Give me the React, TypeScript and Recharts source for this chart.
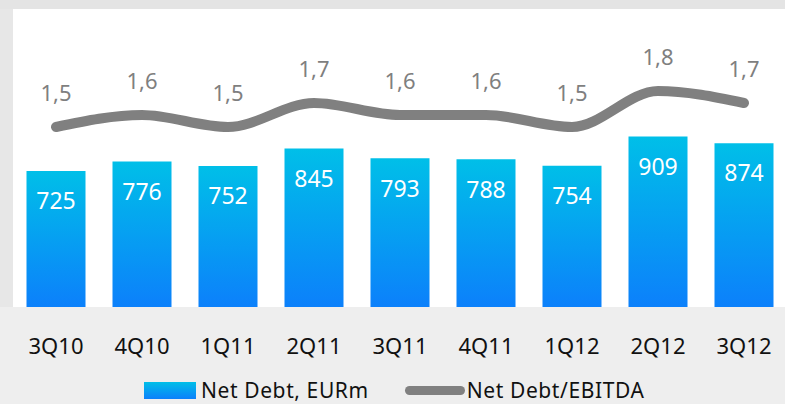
import { ComposedChart, Bar, Line, XAxis, YAxis, Legend, LabelList } from 'recharts'

const quarters = ['3Q10', '4Q10', '1Q11', '2Q11', '3Q11', '4Q11', '1Q12', '2Q12', '3Q12']
const netDebt = [725, 776, 752, 845, 793, 788, 754, 909, 874]
const debtToEbitda = [1.5, 1.6, 1.5, 1.7, 1.6, 1.6, 1.5, 1.8, 1.7]

const data = quarters.map((q, i) => ({ q, debt: netDebt[i], ratio: debtToEbitda[i] }))

const font = '"Noto Sans", "DejaVu Sans", sans-serif'
const fmtRatio = (v: any) => String(v).replace('.', ',')

function LegendBox() {
  return (
    <div style={{ display: 'flex', alignItems: 'center', fontFamily: font, fontSize: 21, lineHeight: '22px', color: '#111', height: 22, paddingLeft: 144 }}>
      <span style={{ width: 52, height: 17, background: 'linear-gradient(#00bfe8, #0c80fb)', marginRight: 5 }} />
      <span style={{ letterSpacing: 0.6 }}>Net Debt, EURm</span>
      <span style={{ width: 60, height: 9, borderRadius: 5, background: '#808080', marginLeft: 36, marginRight: 2 }} />
      <span style={{ letterSpacing: 0.6 }}>Net Debt/EBITDA</span>
    </div>
  )
}

export default function App() {
  return (
    <div style={{ position: 'fixed', left: 0, top: 0, width: 785, height: 404, background: '#eeeeee', overflow: 'hidden' }}>
      <div style={{ position: 'absolute', left: 0, top: 0, width: 785, height: 9, background: '#e4e4e4' }} />
      <div style={{ position: 'absolute', left: 0, top: 9, width: 13, height: 298, background: '#e7e7e7' }} />
      <div style={{ position: 'absolute', left: 13, top: 9, width: 772, height: 298, background: '#ffffff' }} />
      <div style={{ position: 'absolute', left: 0, top: 0 }}>
        <ComposedChart
          width={788}
          height={404}
          data={data}
          margin={{ top: 7, right: 1, left: 13, bottom: 0 }}
          barCategoryGap={13.5}
        >
          <defs>
            <linearGradient id="barGrad" x1="0" y1="0" x2="0" y2="1">
              <stop offset="0%" stopColor="#00bfe8" />
              <stop offset="100%" stopColor="#0c80fb" />
            </linearGradient>
          </defs>
          <XAxis
            dataKey="q"
            axisLine={false}
            tickLine={false}
            height={64}
            tick={{ fill: '#111', fontSize: 22, fontFamily: font, dy: 23 }}
            interval={0}
          />
          <YAxis yAxisId="debt" hide domain={[0, 1600]} />
          <YAxis yAxisId="ratio" orientation="right" hide domain={[0, 2.5]} />
          <Legend verticalAlign="bottom" height={33} wrapperStyle={{ top: 379, left: 0, width: 785 }} content={() => <LegendBox />} />
          <Bar yAxisId="debt" dataKey="debt" fill="url(#barGrad)" isAnimationActive={false}>
            <LabelList dataKey="debt" position="insideTop" offset={22} fill="#ffffff" fontSize={23} fontFamily={font} />
          </Bar>
          <Line
            yAxisId="ratio"
            type="monotone"
            dataKey="ratio"
            stroke="#808080"
            strokeWidth={10}
            strokeLinecap="round"
            dot={false}
            activeDot={false}
            isAnimationActive={false}
          >
            <LabelList dataKey="ratio" position="top" offset={26} fill="#7f7f7f" fontSize={22} fontFamily={font} formatter={fmtRatio} />
          </Line>
        </ComposedChart>
      </div>
    </div>
  )
}
